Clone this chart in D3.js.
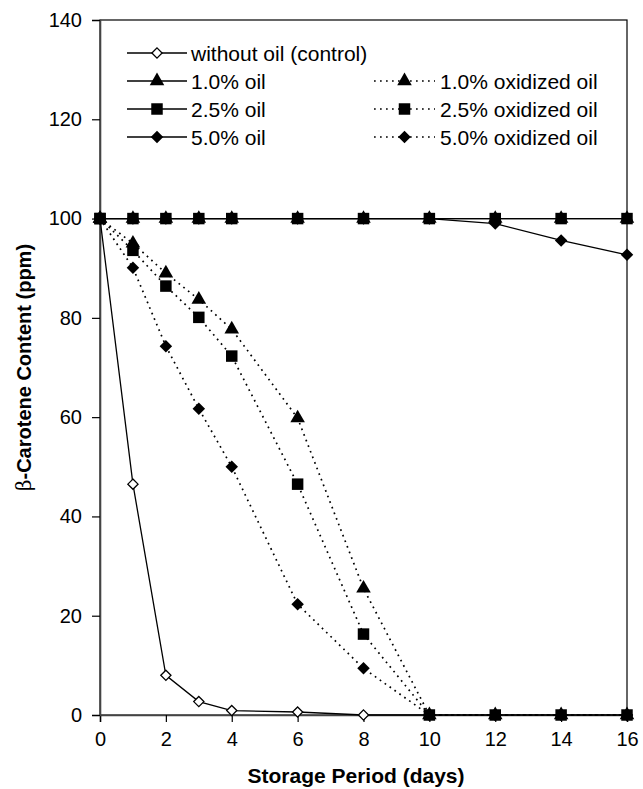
<!DOCTYPE html>
<html>
<head>
<meta charset="utf-8">
<script src="https://cdn.jsdelivr.net/npm/d3@7"></script>
<style>
  body { margin: 0; background: #fff; }
  svg text { font-family: "Liberation Sans", Arial, sans-serif; fill: #000; }
</style>
</head>
<body>
<div id="chart"></div>
<script>
// Storage days and beta-carotene content (ppm)
const days = [0, 1, 2, 3, 4, 6, 8, 10, 12, 14, 16];
const controlVals = [100, 46.5, 8, 2.7, 0.9, 0.6, 0, 0, 0, 0, 0];
const oil10Vals = [100, 100, 100, 100, 100, 100, 100, 100, 100, 100, 100];
const oil25Vals = [100, 100, 100, 100, 100, 100, 100, 100, 100, 100, 100];
const oil50Vals = [100, 100, 100, 100, 100, 100, 100, 100, 99, 95.6, 92.7];
const ox10Vals = [100, 95, 89, 83.7, 77.7, 59.8, 25.5, 0, 0, 0, 0];
const ox25Vals = [100, 93.6, 86.4, 80.1, 72.3, 46.5, 16.3, 0, 0, 0, 0];
const ox50Vals = [100, 90.1, 74.3, 61.7, 50, 22.3, 9.4, 0, 0, 0, 0];
const xTicks = [0, 2, 4, 6, 8, 10, 12, 14, 16];
const yTicks = [0, 20, 40, 60, 80, 100, 120, 140];

const W = 643, H = 789;
const plotL = 100, plotR = 627, plotT = 20, plotB = 715;

const svg = d3.select('#chart').append('svg')
    .attr('width', W)
    .attr('height', H);

const x = d3.scaleLinear().domain([0, 16]).range([plotL, plotR]);
const y = d3.scaleLinear().domain([0, 140]).range([plotB, plotT]);

// frame
svg.append('rect')
    .attr('x', plotL).attr('y', plotT)
    .attr('width', plotR - plotL).attr('height', plotB - plotT)
    .attr('fill', 'none').attr('stroke', '#000').attr('stroke-width', 1.2);

const xAxis = svg.append('g')
    .attr('transform', `translate(0,${plotB})`)
    .call(d3.axisBottom(x).tickValues(xTicks).tickSize(7).tickPadding(10));
const yAxis = svg.append('g')
    .attr('transform', `translate(${plotL},0)`)
    .call(d3.axisLeft(y).tickValues(yTicks).tickSize(8).tickPadding(10));

[xAxis, yAxis].forEach(g => {
    g.select('.domain').attr('stroke', '#444').attr('stroke-width', 1.6);
    g.selectAll('.tick line').attr('stroke', '#000').attr('stroke-width', 1.2);
    g.selectAll('.tick text')
        .style('font-family', '"Liberation Sans", Arial, sans-serif')
        .style('font-size', '20px')
        .attr('fill', '#000');
});

// axis titles
svg.append('text')
    .attr('x', 356)
    .attr('y', 783)
    .attr('text-anchor', 'middle')
    .style('font-size', '21px')
    .style('font-weight', 'bold')
    .text('Storage Period (days)');

const yt = svg.append('text')
    .attr('transform', `translate(31,${(plotT + plotB) / 2}) rotate(-90)`)
    .attr('text-anchor', 'middle')
    .style('font-size', '20px')
    .style('font-weight', 'bold');
yt.append('tspan').style('font-weight', 'normal').style('font-family', '"DejaVu Serif", serif').text('β');
yt.append('tspan').text('-Carotene Content (ppm)');

// marker shapes
const sym = {
    diamond: d3.symbol().type(d3.symbolDiamond2).size(100),
    openDiamond: d3.symbol().type(d3.symbolDiamond2).size(66),
    triangle: d3.symbol().type(d3.symbolTriangle).size(92),
    square: d3.symbol().type(d3.symbolSquare).size(132)
};

const series = [
    { name: 'without oil (control)', ys: controlVals, marker: 'openDiamond', open: true, dotted: false },
    { name: '1.0% oil', ys: oil10Vals, marker: 'triangle', dotted: false },
    { name: '2.5% oil', ys: oil25Vals, marker: 'square', dotted: false },
    { name: '5.0% oil', ys: oil50Vals, marker: 'diamond', dotted: false },
    { name: '1.0% oxidized oil', ys: ox10Vals, marker: 'triangle', dotted: true },
    { name: '2.5% oxidized oil', ys: ox25Vals, marker: 'square', dotted: true },
    { name: '5.0% oxidized oil', ys: ox50Vals, marker: 'diamond', dotted: true }
];

function styleLine(sel, s) {
    sel.attr('fill', 'none')
        .attr('stroke', '#000')
        .attr('stroke-width', s.dotted ? 1.7 : 1.3)
        .attr('stroke-dasharray', s.dotted ? '1.7,4.3' : null);
}

function drawMarker(g, s, cx, cy) {
    const p = g.append('path')
        .attr('d', sym[s.marker]())
        .attr('transform', `translate(${cx},${cy})`);
    if (s.open) {
        p.attr('fill', '#fff').attr('stroke', '#000').attr('stroke-width', 1.3);
    } else {
        p.attr('fill', '#000');
    }
}

// drawing order: control underneath, plain-oil squares on top
const drawOrder = [0, 4, 6, 5, 3, 1, 2];
const line = d3.line();
drawOrder.forEach(i => {
    const s = series[i];
    const pts = days.map((d, j) => [x(d), y(s.ys[j])]);
    svg.append('path').attr('d', line(pts)).call(styleLine, s);
    const g = svg.append('g');
    pts.forEach(p => drawMarker(g, s, p[0], p[1]));
});

// legend
const legendRows = [53, 81, 109, 137];
const legendItems = [
    { s: series[0], col: 0, row: 0 },
    { s: series[1], col: 0, row: 1 },
    { s: series[2], col: 0, row: 2 },
    { s: series[3], col: 0, row: 3 },
    { s: series[4], col: 1, row: 1 },
    { s: series[5], col: 1, row: 2 },
    { s: series[6], col: 1, row: 3 }
];
const cols = [{ x0: 127, x1: 187, tx: 191 }, { x0: 374, x1: 435, tx: 440 }];
const lg = svg.append('g');
legendItems.forEach(it => {
    const c = cols[it.col];
    const yy = legendRows[it.row];
    lg.append('line')
        .attr('x1', c.x0).attr('x2', c.x1)
        .attr('y1', yy).attr('y2', yy)
        .call(styleLine, it.s);
    drawMarker(lg, it.s, (c.x0 + c.x1) / 2, yy);
    lg.append('text')
        .attr('x', c.tx).attr('y', yy)
        .attr('dy', '0.36em')
        .style('font-size', '21px')
        .text(it.s.name);
});
</script>
</body>
</html>
